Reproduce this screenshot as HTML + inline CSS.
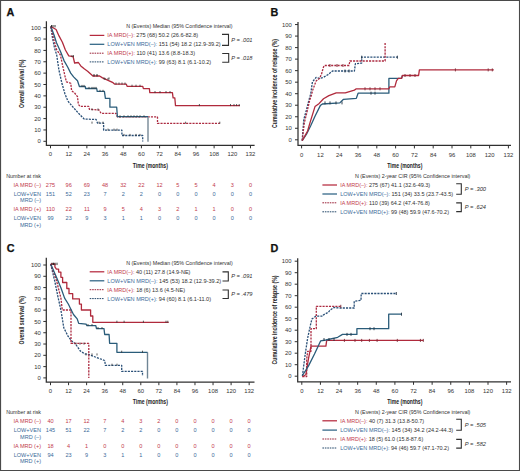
<!DOCTYPE html>
<html><head><meta charset="utf-8"><style>
html,body{margin:0;padding:0;background:#fff;width:520px;height:471px;overflow:hidden}
svg{display:block;font-family:"Liberation Sans",sans-serif}
</style></head><body><svg width="520" height="471" viewBox="0 0 520 471" font-family="Liberation Sans, sans-serif"><path d="M0 0.55 H520 M0.55 0 V471 M519.5 0 V471" stroke="#4a4a4a" stroke-width="1.1" fill="none"/>
<path d="M0 470.45 H520" stroke="#4a4a4a" stroke-width="1.1" fill="none"/>
<text x="6.4" y="15.6" font-size="10.8" font-weight="bold" fill="#111" stroke="#111" stroke-width="0.25">A</text>
<path d="M46.40 21.20 V145.30 H254.60" fill="none" stroke="#303030" stroke-width="1.25"/>
<line x1="43.40" y1="141.30" x2="46.40" y2="141.30" stroke="#303030" stroke-width="1.0"/>
<text x="40.90" y="143.41" font-size="5.9" text-anchor="end" fill="#333">0</text>
<line x1="43.40" y1="129.94" x2="46.40" y2="129.94" stroke="#303030" stroke-width="1.0"/>
<text x="40.90" y="132.05" font-size="5.9" text-anchor="end" fill="#333">10</text>
<line x1="43.40" y1="118.58" x2="46.40" y2="118.58" stroke="#303030" stroke-width="1.0"/>
<text x="40.90" y="120.69" font-size="5.9" text-anchor="end" fill="#333">20</text>
<line x1="43.40" y1="107.22" x2="46.40" y2="107.22" stroke="#303030" stroke-width="1.0"/>
<text x="40.90" y="109.33" font-size="5.9" text-anchor="end" fill="#333">30</text>
<line x1="43.40" y1="95.86" x2="46.40" y2="95.86" stroke="#303030" stroke-width="1.0"/>
<text x="40.90" y="97.97" font-size="5.9" text-anchor="end" fill="#333">40</text>
<line x1="43.40" y1="84.50" x2="46.40" y2="84.50" stroke="#303030" stroke-width="1.0"/>
<text x="40.90" y="86.61" font-size="5.9" text-anchor="end" fill="#333">50</text>
<line x1="43.40" y1="73.14" x2="46.40" y2="73.14" stroke="#303030" stroke-width="1.0"/>
<text x="40.90" y="75.25" font-size="5.9" text-anchor="end" fill="#333">60</text>
<line x1="43.40" y1="61.78" x2="46.40" y2="61.78" stroke="#303030" stroke-width="1.0"/>
<text x="40.90" y="63.89" font-size="5.9" text-anchor="end" fill="#333">70</text>
<line x1="43.40" y1="50.42" x2="46.40" y2="50.42" stroke="#303030" stroke-width="1.0"/>
<text x="40.90" y="52.53" font-size="5.9" text-anchor="end" fill="#333">80</text>
<line x1="43.40" y1="39.06" x2="46.40" y2="39.06" stroke="#303030" stroke-width="1.0"/>
<text x="40.90" y="41.17" font-size="5.9" text-anchor="end" fill="#333">90</text>
<line x1="43.40" y1="27.70" x2="46.40" y2="27.70" stroke="#303030" stroke-width="1.0"/>
<text x="40.90" y="29.81" font-size="5.9" text-anchor="end" fill="#333">100</text>
<line x1="50.50" y1="145.30" x2="50.50" y2="148.30" stroke="#303030" stroke-width="1.0"/>
<text x="50.50" y="156.31" font-size="5.9" text-anchor="middle" fill="#333">0</text>
<line x1="68.68" y1="145.30" x2="68.68" y2="148.30" stroke="#303030" stroke-width="1.0"/>
<text x="68.68" y="156.31" font-size="5.9" text-anchor="middle" fill="#333">12</text>
<line x1="86.86" y1="145.30" x2="86.86" y2="148.30" stroke="#303030" stroke-width="1.0"/>
<text x="86.86" y="156.31" font-size="5.9" text-anchor="middle" fill="#333">24</text>
<line x1="105.04" y1="145.30" x2="105.04" y2="148.30" stroke="#303030" stroke-width="1.0"/>
<text x="105.04" y="156.31" font-size="5.9" text-anchor="middle" fill="#333">36</text>
<line x1="123.22" y1="145.30" x2="123.22" y2="148.30" stroke="#303030" stroke-width="1.0"/>
<text x="123.22" y="156.31" font-size="5.9" text-anchor="middle" fill="#333">48</text>
<line x1="141.40" y1="145.30" x2="141.40" y2="148.30" stroke="#303030" stroke-width="1.0"/>
<text x="141.40" y="156.31" font-size="5.9" text-anchor="middle" fill="#333">60</text>
<line x1="159.58" y1="145.30" x2="159.58" y2="148.30" stroke="#303030" stroke-width="1.0"/>
<text x="159.58" y="156.31" font-size="5.9" text-anchor="middle" fill="#333">72</text>
<line x1="177.76" y1="145.30" x2="177.76" y2="148.30" stroke="#303030" stroke-width="1.0"/>
<text x="177.76" y="156.31" font-size="5.9" text-anchor="middle" fill="#333">84</text>
<line x1="195.94" y1="145.30" x2="195.94" y2="148.30" stroke="#303030" stroke-width="1.0"/>
<text x="195.94" y="156.31" font-size="5.9" text-anchor="middle" fill="#333">96</text>
<line x1="214.12" y1="145.30" x2="214.12" y2="148.30" stroke="#303030" stroke-width="1.0"/>
<text x="214.12" y="156.31" font-size="5.9" text-anchor="middle" fill="#333">108</text>
<line x1="232.30" y1="145.30" x2="232.30" y2="148.30" stroke="#303030" stroke-width="1.0"/>
<text x="232.30" y="156.31" font-size="5.9" text-anchor="middle" fill="#333">120</text>
<line x1="250.48" y1="145.30" x2="250.48" y2="148.30" stroke="#303030" stroke-width="1.0"/>
<text x="250.48" y="156.31" font-size="5.9" text-anchor="middle" fill="#333">132</text>
<text transform="translate(24.26,83.70) rotate(-90)" x="0" y="0" font-size="8" font-weight="bold" text-anchor="middle" textLength="48.4" lengthAdjust="spacingAndGlyphs" fill="#222">Overall survival (%)</text>
<text x="150.30" y="167.56" font-size="8" text-anchor="middle" textLength="35.2" lengthAdjust="spacingAndGlyphs" font-weight="bold" fill="#222">Time (months)</text>
<text x="270.5" y="15.6" font-size="10.8" font-weight="bold" fill="#111" stroke="#111" stroke-width="0.25">B</text>
<path d="M298.00 22.10 V145.40 H511.00" fill="none" stroke="#303030" stroke-width="1.25"/>
<line x1="295.00" y1="139.80" x2="298.00" y2="139.80" stroke="#303030" stroke-width="1.0"/>
<text x="291.80" y="141.91" font-size="5.9" text-anchor="end" fill="#333">0</text>
<line x1="295.00" y1="128.28" x2="298.00" y2="128.28" stroke="#303030" stroke-width="1.0"/>
<text x="291.80" y="130.39" font-size="5.9" text-anchor="end" fill="#333">10</text>
<line x1="295.00" y1="116.75" x2="298.00" y2="116.75" stroke="#303030" stroke-width="1.0"/>
<text x="291.80" y="118.86" font-size="5.9" text-anchor="end" fill="#333">20</text>
<line x1="295.00" y1="105.23" x2="298.00" y2="105.23" stroke="#303030" stroke-width="1.0"/>
<text x="291.80" y="107.34" font-size="5.9" text-anchor="end" fill="#333">30</text>
<line x1="295.00" y1="93.70" x2="298.00" y2="93.70" stroke="#303030" stroke-width="1.0"/>
<text x="291.80" y="95.81" font-size="5.9" text-anchor="end" fill="#333">40</text>
<line x1="295.00" y1="82.18" x2="298.00" y2="82.18" stroke="#303030" stroke-width="1.0"/>
<text x="291.80" y="84.29" font-size="5.9" text-anchor="end" fill="#333">50</text>
<line x1="295.00" y1="70.65" x2="298.00" y2="70.65" stroke="#303030" stroke-width="1.0"/>
<text x="291.80" y="72.76" font-size="5.9" text-anchor="end" fill="#333">60</text>
<line x1="295.00" y1="59.13" x2="298.00" y2="59.13" stroke="#303030" stroke-width="1.0"/>
<text x="291.80" y="61.24" font-size="5.9" text-anchor="end" fill="#333">70</text>
<line x1="295.00" y1="47.60" x2="298.00" y2="47.60" stroke="#303030" stroke-width="1.0"/>
<text x="291.80" y="49.71" font-size="5.9" text-anchor="end" fill="#333">80</text>
<line x1="295.00" y1="36.08" x2="298.00" y2="36.08" stroke="#303030" stroke-width="1.0"/>
<text x="291.80" y="38.19" font-size="5.9" text-anchor="end" fill="#333">90</text>
<line x1="295.00" y1="24.55" x2="298.00" y2="24.55" stroke="#303030" stroke-width="1.0"/>
<text x="291.80" y="26.66" font-size="5.9" text-anchor="end" fill="#333">100</text>
<line x1="301.60" y1="145.40" x2="301.60" y2="148.40" stroke="#303030" stroke-width="1.0"/>
<text x="301.60" y="156.91" font-size="5.9" text-anchor="middle" fill="#333">0</text>
<line x1="320.40" y1="145.40" x2="320.40" y2="148.40" stroke="#303030" stroke-width="1.0"/>
<text x="320.40" y="156.91" font-size="5.9" text-anchor="middle" fill="#333">12</text>
<line x1="339.20" y1="145.40" x2="339.20" y2="148.40" stroke="#303030" stroke-width="1.0"/>
<text x="339.20" y="156.91" font-size="5.9" text-anchor="middle" fill="#333">24</text>
<line x1="358.00" y1="145.40" x2="358.00" y2="148.40" stroke="#303030" stroke-width="1.0"/>
<text x="358.00" y="156.91" font-size="5.9" text-anchor="middle" fill="#333">36</text>
<line x1="376.80" y1="145.40" x2="376.80" y2="148.40" stroke="#303030" stroke-width="1.0"/>
<text x="376.80" y="156.91" font-size="5.9" text-anchor="middle" fill="#333">48</text>
<line x1="395.60" y1="145.40" x2="395.60" y2="148.40" stroke="#303030" stroke-width="1.0"/>
<text x="395.60" y="156.91" font-size="5.9" text-anchor="middle" fill="#333">60</text>
<line x1="414.40" y1="145.40" x2="414.40" y2="148.40" stroke="#303030" stroke-width="1.0"/>
<text x="414.40" y="156.91" font-size="5.9" text-anchor="middle" fill="#333">72</text>
<line x1="433.20" y1="145.40" x2="433.20" y2="148.40" stroke="#303030" stroke-width="1.0"/>
<text x="433.20" y="156.91" font-size="5.9" text-anchor="middle" fill="#333">84</text>
<line x1="452.00" y1="145.40" x2="452.00" y2="148.40" stroke="#303030" stroke-width="1.0"/>
<text x="452.00" y="156.91" font-size="5.9" text-anchor="middle" fill="#333">96</text>
<line x1="470.80" y1="145.40" x2="470.80" y2="148.40" stroke="#303030" stroke-width="1.0"/>
<text x="470.80" y="156.91" font-size="5.9" text-anchor="middle" fill="#333">108</text>
<line x1="489.60" y1="145.40" x2="489.60" y2="148.40" stroke="#303030" stroke-width="1.0"/>
<text x="489.60" y="156.91" font-size="5.9" text-anchor="middle" fill="#333">120</text>
<line x1="508.40" y1="145.40" x2="508.40" y2="148.40" stroke="#303030" stroke-width="1.0"/>
<text x="508.40" y="156.91" font-size="5.9" text-anchor="middle" fill="#333">132</text>
<text transform="translate(277.06,83.50) rotate(-90)" x="0" y="0" font-size="8" font-weight="bold" text-anchor="middle" textLength="89" lengthAdjust="spacingAndGlyphs" fill="#222">Cumulative incidence of relapse (%)</text>
<text x="404.80" y="167.56" font-size="8" text-anchor="middle" textLength="35.2" lengthAdjust="spacingAndGlyphs" font-weight="bold" fill="#222">Time (months)</text>
<text x="6.8" y="252.2" font-size="10.8" font-weight="bold" fill="#111" stroke="#111" stroke-width="0.25">C</text>
<path d="M46.30 257.80 V382.20 H254.50" fill="none" stroke="#303030" stroke-width="1.25"/>
<line x1="43.30" y1="377.90" x2="46.30" y2="377.90" stroke="#303030" stroke-width="1.0"/>
<text x="40.90" y="380.01" font-size="5.9" text-anchor="end" fill="#333">0</text>
<line x1="43.30" y1="366.61" x2="46.30" y2="366.61" stroke="#303030" stroke-width="1.0"/>
<text x="40.90" y="368.72" font-size="5.9" text-anchor="end" fill="#333">10</text>
<line x1="43.30" y1="355.32" x2="46.30" y2="355.32" stroke="#303030" stroke-width="1.0"/>
<text x="40.90" y="357.43" font-size="5.9" text-anchor="end" fill="#333">20</text>
<line x1="43.30" y1="344.03" x2="46.30" y2="344.03" stroke="#303030" stroke-width="1.0"/>
<text x="40.90" y="346.14" font-size="5.9" text-anchor="end" fill="#333">30</text>
<line x1="43.30" y1="332.74" x2="46.30" y2="332.74" stroke="#303030" stroke-width="1.0"/>
<text x="40.90" y="334.85" font-size="5.9" text-anchor="end" fill="#333">40</text>
<line x1="43.30" y1="321.45" x2="46.30" y2="321.45" stroke="#303030" stroke-width="1.0"/>
<text x="40.90" y="323.56" font-size="5.9" text-anchor="end" fill="#333">50</text>
<line x1="43.30" y1="310.16" x2="46.30" y2="310.16" stroke="#303030" stroke-width="1.0"/>
<text x="40.90" y="312.27" font-size="5.9" text-anchor="end" fill="#333">60</text>
<line x1="43.30" y1="298.87" x2="46.30" y2="298.87" stroke="#303030" stroke-width="1.0"/>
<text x="40.90" y="300.98" font-size="5.9" text-anchor="end" fill="#333">70</text>
<line x1="43.30" y1="287.58" x2="46.30" y2="287.58" stroke="#303030" stroke-width="1.0"/>
<text x="40.90" y="289.69" font-size="5.9" text-anchor="end" fill="#333">80</text>
<line x1="43.30" y1="276.29" x2="46.30" y2="276.29" stroke="#303030" stroke-width="1.0"/>
<text x="40.90" y="278.40" font-size="5.9" text-anchor="end" fill="#333">90</text>
<line x1="43.30" y1="265.00" x2="46.30" y2="265.00" stroke="#303030" stroke-width="1.0"/>
<text x="40.90" y="267.11" font-size="5.9" text-anchor="end" fill="#333">100</text>
<line x1="50.50" y1="382.20" x2="50.50" y2="385.20" stroke="#303030" stroke-width="1.0"/>
<text x="50.50" y="392.51" font-size="5.9" text-anchor="middle" fill="#333">0</text>
<line x1="68.56" y1="382.20" x2="68.56" y2="385.20" stroke="#303030" stroke-width="1.0"/>
<text x="68.56" y="392.51" font-size="5.9" text-anchor="middle" fill="#333">12</text>
<line x1="86.62" y1="382.20" x2="86.62" y2="385.20" stroke="#303030" stroke-width="1.0"/>
<text x="86.62" y="392.51" font-size="5.9" text-anchor="middle" fill="#333">24</text>
<line x1="104.68" y1="382.20" x2="104.68" y2="385.20" stroke="#303030" stroke-width="1.0"/>
<text x="104.68" y="392.51" font-size="5.9" text-anchor="middle" fill="#333">36</text>
<line x1="122.74" y1="382.20" x2="122.74" y2="385.20" stroke="#303030" stroke-width="1.0"/>
<text x="122.74" y="392.51" font-size="5.9" text-anchor="middle" fill="#333">48</text>
<line x1="140.80" y1="382.20" x2="140.80" y2="385.20" stroke="#303030" stroke-width="1.0"/>
<text x="140.80" y="392.51" font-size="5.9" text-anchor="middle" fill="#333">60</text>
<line x1="158.86" y1="382.20" x2="158.86" y2="385.20" stroke="#303030" stroke-width="1.0"/>
<text x="158.86" y="392.51" font-size="5.9" text-anchor="middle" fill="#333">72</text>
<line x1="176.92" y1="382.20" x2="176.92" y2="385.20" stroke="#303030" stroke-width="1.0"/>
<text x="176.92" y="392.51" font-size="5.9" text-anchor="middle" fill="#333">84</text>
<line x1="194.98" y1="382.20" x2="194.98" y2="385.20" stroke="#303030" stroke-width="1.0"/>
<text x="194.98" y="392.51" font-size="5.9" text-anchor="middle" fill="#333">96</text>
<line x1="213.04" y1="382.20" x2="213.04" y2="385.20" stroke="#303030" stroke-width="1.0"/>
<text x="213.04" y="392.51" font-size="5.9" text-anchor="middle" fill="#333">108</text>
<line x1="231.10" y1="382.20" x2="231.10" y2="385.20" stroke="#303030" stroke-width="1.0"/>
<text x="231.10" y="392.51" font-size="5.9" text-anchor="middle" fill="#333">120</text>
<line x1="249.16" y1="382.20" x2="249.16" y2="385.20" stroke="#303030" stroke-width="1.0"/>
<text x="249.16" y="392.51" font-size="5.9" text-anchor="middle" fill="#333">132</text>
<text transform="translate(24.26,320.20) rotate(-90)" x="0" y="0" font-size="8" font-weight="bold" text-anchor="middle" textLength="48.4" lengthAdjust="spacingAndGlyphs" fill="#222">Overall survival (%)</text>
<text x="150.30" y="404.06" font-size="8" text-anchor="middle" textLength="35.2" lengthAdjust="spacingAndGlyphs" font-weight="bold" fill="#222">Time (months)</text>
<text x="270.5" y="252.2" font-size="10.8" font-weight="bold" fill="#111" stroke="#111" stroke-width="0.25">D</text>
<path d="M297.70 258.30 V381.80 H511.00" fill="none" stroke="#303030" stroke-width="1.25"/>
<line x1="294.70" y1="376.20" x2="297.70" y2="376.20" stroke="#303030" stroke-width="1.0"/>
<text x="291.50" y="378.31" font-size="5.9" text-anchor="end" fill="#333">0</text>
<line x1="294.70" y1="364.70" x2="297.70" y2="364.70" stroke="#303030" stroke-width="1.0"/>
<text x="291.50" y="366.81" font-size="5.9" text-anchor="end" fill="#333">10</text>
<line x1="294.70" y1="353.20" x2="297.70" y2="353.20" stroke="#303030" stroke-width="1.0"/>
<text x="291.50" y="355.31" font-size="5.9" text-anchor="end" fill="#333">20</text>
<line x1="294.70" y1="341.70" x2="297.70" y2="341.70" stroke="#303030" stroke-width="1.0"/>
<text x="291.50" y="343.81" font-size="5.9" text-anchor="end" fill="#333">30</text>
<line x1="294.70" y1="330.20" x2="297.70" y2="330.20" stroke="#303030" stroke-width="1.0"/>
<text x="291.50" y="332.31" font-size="5.9" text-anchor="end" fill="#333">40</text>
<line x1="294.70" y1="318.70" x2="297.70" y2="318.70" stroke="#303030" stroke-width="1.0"/>
<text x="291.50" y="320.81" font-size="5.9" text-anchor="end" fill="#333">50</text>
<line x1="294.70" y1="307.20" x2="297.70" y2="307.20" stroke="#303030" stroke-width="1.0"/>
<text x="291.50" y="309.31" font-size="5.9" text-anchor="end" fill="#333">60</text>
<line x1="294.70" y1="295.70" x2="297.70" y2="295.70" stroke="#303030" stroke-width="1.0"/>
<text x="291.50" y="297.81" font-size="5.9" text-anchor="end" fill="#333">70</text>
<line x1="294.70" y1="284.20" x2="297.70" y2="284.20" stroke="#303030" stroke-width="1.0"/>
<text x="291.50" y="286.31" font-size="5.9" text-anchor="end" fill="#333">80</text>
<line x1="294.70" y1="272.70" x2="297.70" y2="272.70" stroke="#303030" stroke-width="1.0"/>
<text x="291.50" y="274.81" font-size="5.9" text-anchor="end" fill="#333">90</text>
<line x1="294.70" y1="261.20" x2="297.70" y2="261.20" stroke="#303030" stroke-width="1.0"/>
<text x="291.50" y="263.31" font-size="5.9" text-anchor="end" fill="#333">100</text>
<line x1="301.80" y1="381.80" x2="301.80" y2="384.80" stroke="#303030" stroke-width="1.0"/>
<text x="301.80" y="393.11" font-size="5.9" text-anchor="middle" fill="#333">0</text>
<line x1="320.42" y1="381.80" x2="320.42" y2="384.80" stroke="#303030" stroke-width="1.0"/>
<text x="320.42" y="393.11" font-size="5.9" text-anchor="middle" fill="#333">12</text>
<line x1="339.04" y1="381.80" x2="339.04" y2="384.80" stroke="#303030" stroke-width="1.0"/>
<text x="339.04" y="393.11" font-size="5.9" text-anchor="middle" fill="#333">24</text>
<line x1="357.66" y1="381.80" x2="357.66" y2="384.80" stroke="#303030" stroke-width="1.0"/>
<text x="357.66" y="393.11" font-size="5.9" text-anchor="middle" fill="#333">36</text>
<line x1="376.28" y1="381.80" x2="376.28" y2="384.80" stroke="#303030" stroke-width="1.0"/>
<text x="376.28" y="393.11" font-size="5.9" text-anchor="middle" fill="#333">48</text>
<line x1="394.90" y1="381.80" x2="394.90" y2="384.80" stroke="#303030" stroke-width="1.0"/>
<text x="394.90" y="393.11" font-size="5.9" text-anchor="middle" fill="#333">60</text>
<line x1="413.52" y1="381.80" x2="413.52" y2="384.80" stroke="#303030" stroke-width="1.0"/>
<text x="413.52" y="393.11" font-size="5.9" text-anchor="middle" fill="#333">72</text>
<line x1="432.14" y1="381.80" x2="432.14" y2="384.80" stroke="#303030" stroke-width="1.0"/>
<text x="432.14" y="393.11" font-size="5.9" text-anchor="middle" fill="#333">84</text>
<line x1="450.76" y1="381.80" x2="450.76" y2="384.80" stroke="#303030" stroke-width="1.0"/>
<text x="450.76" y="393.11" font-size="5.9" text-anchor="middle" fill="#333">96</text>
<line x1="469.38" y1="381.80" x2="469.38" y2="384.80" stroke="#303030" stroke-width="1.0"/>
<text x="469.38" y="393.11" font-size="5.9" text-anchor="middle" fill="#333">108</text>
<line x1="488.00" y1="381.80" x2="488.00" y2="384.80" stroke="#303030" stroke-width="1.0"/>
<text x="488.00" y="393.11" font-size="5.9" text-anchor="middle" fill="#333">120</text>
<line x1="506.62" y1="381.80" x2="506.62" y2="384.80" stroke="#303030" stroke-width="1.0"/>
<text x="506.62" y="393.11" font-size="5.9" text-anchor="middle" fill="#333">132</text>
<text transform="translate(277.06,320.00) rotate(-90)" x="0" y="0" font-size="8" font-weight="bold" text-anchor="middle" textLength="89" lengthAdjust="spacingAndGlyphs" fill="#222">Cumulative incidence of relapse (%)</text>
<text x="404.80" y="403.86" font-size="8" text-anchor="middle" textLength="35.2" lengthAdjust="spacingAndGlyphs" font-weight="bold" fill="#222">Time (months)</text>
<text x="126.20" y="28.23" font-size="5.4" textLength="106.3" lengthAdjust="spacingAndGlyphs" fill="#303030">N (Events) Median (95% Confidence interval)</text>
<line x1="89.70" y1="35.40" x2="104.30" y2="35.40" stroke="#b52a3e" stroke-width="1.25"/>
<text x="107.30" y="37.39" font-size="5.55" fill="#303030" textLength="90.8" lengthAdjust="spacingAndGlyphs"><tspan fill="#c23a4c">IA MRD(–):</tspan> 275 (68) 50.2 (26.6-82.8)</text>
<line x1="89.70" y1="44.30" x2="104.30" y2="44.30" stroke="#2d6384" stroke-width="1.25"/>
<text x="107.30" y="46.29" font-size="5.55" fill="#303030" textLength="113.3" lengthAdjust="spacingAndGlyphs"><tspan fill="#3b6a99">LOW+VEN MRD(–):</tspan> 151 (54) 18.2 (12.9-39.2)</text>
<line x1="89.70" y1="53.20" x2="104.30" y2="53.20" stroke="#9a2238" stroke-width="1.0" stroke-dasharray="1.6 0.85"/>
<text x="107.30" y="55.19" font-size="5.55" fill="#303030" textLength="87.7" lengthAdjust="spacingAndGlyphs"><tspan fill="#c23a4c">IA MRD(+):</tspan> 110 (41) 13.6 (8.8-18.3)</text>
<line x1="89.70" y1="61.90" x2="104.30" y2="61.90" stroke="#24486a" stroke-width="1.0" stroke-dasharray="1.6 0.85"/>
<text x="107.30" y="63.89" font-size="5.55" fill="#303030" textLength="103.9" lengthAdjust="spacingAndGlyphs"><tspan fill="#3b6a99">LOW+VEN MRD(+):</tspan> 99 (63) 8.1 (6.1-10.2)</text>
<path d="M222.00 34.40 H228.50 V45.40 H222.00" fill="none" stroke="#303030" stroke-width="1.1"/>
<text x="231.30" y="41.84" font-size="5.7" textLength="21.2" lengthAdjust="spacingAndGlyphs" font-style="italic" fill="#303030">P = .001</text>
<path d="M222.20 53.50 H228.70 V62.30 H222.20" fill="none" stroke="#303030" stroke-width="1.1"/>
<text x="231.30" y="59.74" font-size="5.7" textLength="21.2" lengthAdjust="spacingAndGlyphs" font-style="italic" fill="#303030">P = .018</text>
<text x="126.20" y="264.73" font-size="5.4" textLength="106.5" lengthAdjust="spacingAndGlyphs" fill="#303030">N (Events) Median (95% Confidence interval)</text>
<line x1="89.70" y1="271.80" x2="104.30" y2="271.80" stroke="#b52a3e" stroke-width="1.25"/>
<text x="107.30" y="273.79" font-size="5.55" fill="#303030" textLength="83.1" lengthAdjust="spacingAndGlyphs"><tspan fill="#c23a4c">IA MRD(–):</tspan> 40 (11) 27.8 (14.9-NE)</text>
<line x1="89.70" y1="280.80" x2="104.30" y2="280.80" stroke="#2d6384" stroke-width="1.25"/>
<text x="107.30" y="282.79" font-size="5.55" fill="#303030" textLength="113.9" lengthAdjust="spacingAndGlyphs"><tspan fill="#3b6a99">LOW+VEN MRD(–):</tspan> 145 (53) 18.2 (12.9-39.2)</text>
<line x1="89.70" y1="289.70" x2="104.30" y2="289.70" stroke="#9a2238" stroke-width="1.0" stroke-dasharray="1.6 0.85"/>
<text x="107.30" y="291.69" font-size="5.55" fill="#303030" textLength="77.7" lengthAdjust="spacingAndGlyphs"><tspan fill="#c23a4c">IA MRD(+):</tspan> 18 (6) 13.6 (4.5-NE)</text>
<line x1="89.70" y1="298.60" x2="104.30" y2="298.60" stroke="#24486a" stroke-width="1.0" stroke-dasharray="1.6 0.85"/>
<text x="107.30" y="300.59" font-size="5.55" fill="#303030" textLength="103.7" lengthAdjust="spacingAndGlyphs"><tspan fill="#3b6a99">LOW+VEN MRD(+):</tspan> 94 (60) 8.1 (6.1-11.0)</text>
<path d="M222.50 271.90 H228.30 V281.00 H222.50" fill="none" stroke="#303030" stroke-width="1.1"/>
<text x="231.30" y="278.04" font-size="5.7" textLength="21.2" lengthAdjust="spacingAndGlyphs" font-style="italic" fill="#303030">P = .091</text>
<path d="M222.50 290.00 H228.30 V298.50 H222.50" fill="none" stroke="#303030" stroke-width="1.1"/>
<text x="231.30" y="296.44" font-size="5.7" textLength="21.2" lengthAdjust="spacingAndGlyphs" font-style="italic" fill="#303030">P = .479</text>
<text x="355.00" y="177.63" font-size="5.4" textLength="115.4" lengthAdjust="spacingAndGlyphs" fill="#303030">N (Events) 2-year CIR (95% Confidence interval)</text>
<line x1="322.40" y1="185.00" x2="337.00" y2="185.00" stroke="#b52a3e" stroke-width="1.25"/>
<text x="340.20" y="186.99" font-size="5.55" fill="#303030" textLength="90.0" lengthAdjust="spacingAndGlyphs"><tspan fill="#c23a4c">IA MRD(–):</tspan> 275 (67) 41.1 (32.6-49.3)</text>
<line x1="322.40" y1="194.00" x2="337.00" y2="194.00" stroke="#2d6384" stroke-width="1.25"/>
<text x="340.20" y="195.99" font-size="5.55" fill="#303030" textLength="113.0" lengthAdjust="spacingAndGlyphs"><tspan fill="#3b6a99">LOW+VEN MRD(–):</tspan> 151 (34) 33.5 (23.7-43.5)</text>
<line x1="322.40" y1="202.80" x2="337.00" y2="202.80" stroke="#9a2238" stroke-width="1.0" stroke-dasharray="1.6 0.85"/>
<text x="340.20" y="204.79" font-size="5.55" fill="#303030" textLength="89.6" lengthAdjust="spacingAndGlyphs"><tspan fill="#c23a4c">IA MRD(+):</tspan> 110 (39) 64.2 (47.4-76.8)</text>
<line x1="322.40" y1="211.80" x2="337.00" y2="211.80" stroke="#24486a" stroke-width="1.0" stroke-dasharray="1.6 0.85"/>
<text x="340.20" y="213.79" font-size="5.55" fill="#303030" textLength="108.8" lengthAdjust="spacingAndGlyphs"><tspan fill="#3b6a99">LOW+VEN MRD(+):</tspan> 99 (48) 59.9 (47.6-70.2)</text>
<path d="M456.20 183.70 H461.30 V194.20 H456.20" fill="none" stroke="#303030" stroke-width="1.1"/>
<text x="464.80" y="190.84" font-size="5.7" textLength="21.2" lengthAdjust="spacingAndGlyphs" font-style="italic" fill="#303030">P = .300</text>
<path d="M456.20 202.90 H461.30 V211.60 H456.20" fill="none" stroke="#303030" stroke-width="1.1"/>
<text x="464.80" y="209.04" font-size="5.7" textLength="21.2" lengthAdjust="spacingAndGlyphs" font-style="italic" fill="#303030">P = .624</text>
<text x="355.00" y="414.23" font-size="5.4" textLength="115.4" lengthAdjust="spacingAndGlyphs" fill="#303030">N (Events) 2-year CIR (95% Confidence interval)</text>
<line x1="322.40" y1="420.80" x2="337.00" y2="420.80" stroke="#b52a3e" stroke-width="1.25"/>
<text x="340.20" y="422.79" font-size="5.55" fill="#303030" textLength="84.0" lengthAdjust="spacingAndGlyphs"><tspan fill="#c23a4c">IA MRD(–):</tspan> 40 (7) 31.3 (13.8-50.7)</text>
<line x1="322.40" y1="430.10" x2="337.00" y2="430.10" stroke="#2d6384" stroke-width="1.25"/>
<text x="340.20" y="432.09" font-size="5.55" fill="#303030" textLength="113.0" lengthAdjust="spacingAndGlyphs"><tspan fill="#3b6a99">LOW+VEN MRD(–):</tspan> 145 (34) 34.2 (24.2-44.3)</text>
<line x1="322.40" y1="439.00" x2="337.00" y2="439.00" stroke="#9a2238" stroke-width="1.0" stroke-dasharray="1.6 0.85"/>
<text x="340.20" y="440.99" font-size="5.55" fill="#303030" textLength="83.0" lengthAdjust="spacingAndGlyphs"><tspan fill="#c23a4c">IA MRD(+):</tspan> 18 (5) 61.0 (15.8-87.6)</text>
<line x1="322.40" y1="448.00" x2="337.00" y2="448.00" stroke="#24486a" stroke-width="1.0" stroke-dasharray="1.6 0.85"/>
<text x="340.20" y="449.99" font-size="5.55" fill="#303030" textLength="108.8" lengthAdjust="spacingAndGlyphs"><tspan fill="#3b6a99">LOW+VEN MRD(+):</tspan> 94 (46) 59.7 (47.1-70.2)</text>
<path d="M456.20 419.30 H461.30 V430.30 H456.20" fill="none" stroke="#303030" stroke-width="1.1"/>
<text x="464.80" y="426.74" font-size="5.7" textLength="21.2" lengthAdjust="spacingAndGlyphs" font-style="italic" fill="#303030">P = .505</text>
<path d="M456.20 439.40 H461.30 V448.10 H456.20" fill="none" stroke="#303030" stroke-width="1.1"/>
<text x="464.80" y="445.84" font-size="5.7" textLength="21.2" lengthAdjust="spacingAndGlyphs" font-style="italic" fill="#303030">P = .582</text>
<text x="6.20" y="178.15" font-size="5.45" textLength="34.8" lengthAdjust="spacingAndGlyphs" fill="#303030">Number at risk</text>
<text x="41.00" y="186.79" font-size="5.55" text-anchor="end" fill="#c23a4c">IA MRD (–)</text>
<text x="41.00" y="195.79" font-size="5.55" text-anchor="end" fill="#3b6a99">LOW+VEN</text>
<text x="41.00" y="202.39" font-size="5.55" text-anchor="end" fill="#3b6a99">MRD (–)</text>
<text x="41.00" y="211.49" font-size="5.55" text-anchor="end" fill="#c23a4c">IA MRD (+)</text>
<text x="41.00" y="220.49" font-size="5.55" text-anchor="end" fill="#3b6a99">LOW+VEN</text>
<text x="41.00" y="226.89" font-size="5.55" text-anchor="end" fill="#3b6a99">MRD (+)</text>
<text x="50.50" y="186.79" font-size="5.55" text-anchor="middle" fill="#c23a4c">275</text>
<text x="68.68" y="186.79" font-size="5.55" text-anchor="middle" fill="#c23a4c">96</text>
<text x="86.86" y="186.79" font-size="5.55" text-anchor="middle" fill="#c23a4c">69</text>
<text x="105.04" y="186.79" font-size="5.55" text-anchor="middle" fill="#c23a4c">48</text>
<text x="123.22" y="186.79" font-size="5.55" text-anchor="middle" fill="#c23a4c">32</text>
<text x="141.40" y="186.79" font-size="5.55" text-anchor="middle" fill="#c23a4c">22</text>
<text x="159.58" y="186.79" font-size="5.55" text-anchor="middle" fill="#c23a4c">12</text>
<text x="177.76" y="186.79" font-size="5.55" text-anchor="middle" fill="#c23a4c">5</text>
<text x="195.94" y="186.79" font-size="5.55" text-anchor="middle" fill="#c23a4c">5</text>
<text x="214.12" y="186.79" font-size="5.55" text-anchor="middle" fill="#c23a4c">4</text>
<text x="232.30" y="186.79" font-size="5.55" text-anchor="middle" fill="#c23a4c">3</text>
<text x="250.48" y="186.79" font-size="5.55" text-anchor="middle" fill="#c23a4c">0</text>
<text x="50.50" y="195.79" font-size="5.55" text-anchor="middle" fill="#3b6a99">151</text>
<text x="68.68" y="195.79" font-size="5.55" text-anchor="middle" fill="#3b6a99">52</text>
<text x="86.86" y="195.79" font-size="5.55" text-anchor="middle" fill="#3b6a99">23</text>
<text x="105.04" y="195.79" font-size="5.55" text-anchor="middle" fill="#3b6a99">7</text>
<text x="123.22" y="195.79" font-size="5.55" text-anchor="middle" fill="#3b6a99">2</text>
<text x="141.40" y="195.79" font-size="5.55" text-anchor="middle" fill="#3b6a99">2</text>
<text x="159.58" y="195.79" font-size="5.55" text-anchor="middle" fill="#3b6a99">0</text>
<text x="177.76" y="195.79" font-size="5.55" text-anchor="middle" fill="#3b6a99">0</text>
<text x="195.94" y="195.79" font-size="5.55" text-anchor="middle" fill="#3b6a99">0</text>
<text x="214.12" y="195.79" font-size="5.55" text-anchor="middle" fill="#3b6a99">0</text>
<text x="232.30" y="195.79" font-size="5.55" text-anchor="middle" fill="#3b6a99">0</text>
<text x="250.48" y="195.79" font-size="5.55" text-anchor="middle" fill="#3b6a99">0</text>
<text x="50.50" y="211.49" font-size="5.55" text-anchor="middle" fill="#c23a4c">110</text>
<text x="68.68" y="211.49" font-size="5.55" text-anchor="middle" fill="#c23a4c">22</text>
<text x="86.86" y="211.49" font-size="5.55" text-anchor="middle" fill="#c23a4c">11</text>
<text x="105.04" y="211.49" font-size="5.55" text-anchor="middle" fill="#c23a4c">9</text>
<text x="123.22" y="211.49" font-size="5.55" text-anchor="middle" fill="#c23a4c">5</text>
<text x="141.40" y="211.49" font-size="5.55" text-anchor="middle" fill="#c23a4c">4</text>
<text x="159.58" y="211.49" font-size="5.55" text-anchor="middle" fill="#c23a4c">3</text>
<text x="177.76" y="211.49" font-size="5.55" text-anchor="middle" fill="#c23a4c">2</text>
<text x="195.94" y="211.49" font-size="5.55" text-anchor="middle" fill="#c23a4c">1</text>
<text x="214.12" y="211.49" font-size="5.55" text-anchor="middle" fill="#c23a4c">1</text>
<text x="232.30" y="211.49" font-size="5.55" text-anchor="middle" fill="#c23a4c">0</text>
<text x="250.48" y="211.49" font-size="5.55" text-anchor="middle" fill="#c23a4c">0</text>
<text x="50.50" y="220.49" font-size="5.55" text-anchor="middle" fill="#3b6a99">99</text>
<text x="68.68" y="220.49" font-size="5.55" text-anchor="middle" fill="#3b6a99">23</text>
<text x="86.86" y="220.49" font-size="5.55" text-anchor="middle" fill="#3b6a99">9</text>
<text x="105.04" y="220.49" font-size="5.55" text-anchor="middle" fill="#3b6a99">3</text>
<text x="123.22" y="220.49" font-size="5.55" text-anchor="middle" fill="#3b6a99">1</text>
<text x="141.40" y="220.49" font-size="5.55" text-anchor="middle" fill="#3b6a99">1</text>
<text x="159.58" y="220.49" font-size="5.55" text-anchor="middle" fill="#3b6a99">0</text>
<text x="177.76" y="220.49" font-size="5.55" text-anchor="middle" fill="#3b6a99">0</text>
<text x="195.94" y="220.49" font-size="5.55" text-anchor="middle" fill="#3b6a99">0</text>
<text x="214.12" y="220.49" font-size="5.55" text-anchor="middle" fill="#3b6a99">0</text>
<text x="232.30" y="220.49" font-size="5.55" text-anchor="middle" fill="#3b6a99">0</text>
<text x="250.48" y="220.49" font-size="5.55" text-anchor="middle" fill="#3b6a99">0</text>
<text x="6.20" y="414.45" font-size="5.45" textLength="34.8" lengthAdjust="spacingAndGlyphs" fill="#303030">Number at risk</text>
<text x="41.00" y="423.29" font-size="5.55" text-anchor="end" fill="#c23a4c">IA MRD (–)</text>
<text x="41.00" y="432.19" font-size="5.55" text-anchor="end" fill="#3b6a99">LOW+VEN</text>
<text x="41.00" y="438.79" font-size="5.55" text-anchor="end" fill="#3b6a99">MRD (–)</text>
<text x="41.00" y="447.79" font-size="5.55" text-anchor="end" fill="#c23a4c">IA MRD (+)</text>
<text x="41.00" y="456.79" font-size="5.55" text-anchor="end" fill="#3b6a99">LOW+VEN</text>
<text x="41.00" y="463.29" font-size="5.55" text-anchor="end" fill="#3b6a99">MRD (+)</text>
<text x="50.50" y="423.29" font-size="5.55" text-anchor="middle" fill="#c23a4c">40</text>
<text x="68.56" y="423.29" font-size="5.55" text-anchor="middle" fill="#c23a4c">17</text>
<text x="86.62" y="423.29" font-size="5.55" text-anchor="middle" fill="#c23a4c">12</text>
<text x="104.68" y="423.29" font-size="5.55" text-anchor="middle" fill="#c23a4c">7</text>
<text x="122.74" y="423.29" font-size="5.55" text-anchor="middle" fill="#c23a4c">4</text>
<text x="140.80" y="423.29" font-size="5.55" text-anchor="middle" fill="#c23a4c">3</text>
<text x="158.86" y="423.29" font-size="5.55" text-anchor="middle" fill="#c23a4c">2</text>
<text x="176.92" y="423.29" font-size="5.55" text-anchor="middle" fill="#c23a4c">0</text>
<text x="194.98" y="423.29" font-size="5.55" text-anchor="middle" fill="#c23a4c">0</text>
<text x="213.04" y="423.29" font-size="5.55" text-anchor="middle" fill="#c23a4c">0</text>
<text x="231.10" y="423.29" font-size="5.55" text-anchor="middle" fill="#c23a4c">0</text>
<text x="249.16" y="423.29" font-size="5.55" text-anchor="middle" fill="#c23a4c">0</text>
<text x="50.50" y="432.19" font-size="5.55" text-anchor="middle" fill="#3b6a99">145</text>
<text x="68.56" y="432.19" font-size="5.55" text-anchor="middle" fill="#3b6a99">51</text>
<text x="86.62" y="432.19" font-size="5.55" text-anchor="middle" fill="#3b6a99">22</text>
<text x="104.68" y="432.19" font-size="5.55" text-anchor="middle" fill="#3b6a99">7</text>
<text x="122.74" y="432.19" font-size="5.55" text-anchor="middle" fill="#3b6a99">2</text>
<text x="140.80" y="432.19" font-size="5.55" text-anchor="middle" fill="#3b6a99">2</text>
<text x="158.86" y="432.19" font-size="5.55" text-anchor="middle" fill="#3b6a99">0</text>
<text x="176.92" y="432.19" font-size="5.55" text-anchor="middle" fill="#3b6a99">0</text>
<text x="194.98" y="432.19" font-size="5.55" text-anchor="middle" fill="#3b6a99">0</text>
<text x="213.04" y="432.19" font-size="5.55" text-anchor="middle" fill="#3b6a99">0</text>
<text x="231.10" y="432.19" font-size="5.55" text-anchor="middle" fill="#3b6a99">0</text>
<text x="249.16" y="432.19" font-size="5.55" text-anchor="middle" fill="#3b6a99">0</text>
<text x="50.50" y="447.79" font-size="5.55" text-anchor="middle" fill="#c23a4c">18</text>
<text x="68.56" y="447.79" font-size="5.55" text-anchor="middle" fill="#c23a4c">4</text>
<text x="86.62" y="447.79" font-size="5.55" text-anchor="middle" fill="#c23a4c">1</text>
<text x="104.68" y="447.79" font-size="5.55" text-anchor="middle" fill="#c23a4c">0</text>
<text x="122.74" y="447.79" font-size="5.55" text-anchor="middle" fill="#c23a4c">0</text>
<text x="140.80" y="447.79" font-size="5.55" text-anchor="middle" fill="#c23a4c">0</text>
<text x="158.86" y="447.79" font-size="5.55" text-anchor="middle" fill="#c23a4c">0</text>
<text x="176.92" y="447.79" font-size="5.55" text-anchor="middle" fill="#c23a4c">0</text>
<text x="194.98" y="447.79" font-size="5.55" text-anchor="middle" fill="#c23a4c">0</text>
<text x="213.04" y="447.79" font-size="5.55" text-anchor="middle" fill="#c23a4c">0</text>
<text x="231.10" y="447.79" font-size="5.55" text-anchor="middle" fill="#c23a4c">0</text>
<text x="249.16" y="447.79" font-size="5.55" text-anchor="middle" fill="#c23a4c">0</text>
<text x="50.50" y="456.79" font-size="5.55" text-anchor="middle" fill="#3b6a99">94</text>
<text x="68.56" y="456.79" font-size="5.55" text-anchor="middle" fill="#3b6a99">23</text>
<text x="86.62" y="456.79" font-size="5.55" text-anchor="middle" fill="#3b6a99">9</text>
<text x="104.68" y="456.79" font-size="5.55" text-anchor="middle" fill="#3b6a99">3</text>
<text x="122.74" y="456.79" font-size="5.55" text-anchor="middle" fill="#3b6a99">1</text>
<text x="140.80" y="456.79" font-size="5.55" text-anchor="middle" fill="#3b6a99">1</text>
<text x="158.86" y="456.79" font-size="5.55" text-anchor="middle" fill="#3b6a99">0</text>
<text x="176.92" y="456.79" font-size="5.55" text-anchor="middle" fill="#3b6a99">0</text>
<text x="194.98" y="456.79" font-size="5.55" text-anchor="middle" fill="#3b6a99">0</text>
<text x="213.04" y="456.79" font-size="5.55" text-anchor="middle" fill="#3b6a99">0</text>
<text x="231.10" y="456.79" font-size="5.55" text-anchor="middle" fill="#3b6a99">0</text>
<text x="249.16" y="456.79" font-size="5.55" text-anchor="middle" fill="#3b6a99">0</text>
<path d="M50.8 26.5 L52.5 38.0 L54.5 48.0 L56.7 55.0 L58.9 69.9 L61.9 83.3 L64.9 93.7 L67.9 101.1 L72.3 106.3 L78.3 113.0 L81.2 116.0 L84.2 119.0 L96.1 119.5 L97.6 123.2 L103.6 123.2 L103.6 130.2 L121.9 130.2 L121.9 135.5 L142.7 135.5 L142.7 141.5" fill="none" stroke="#2a5078" stroke-width="1.3" stroke-dasharray="2.1 1.1" stroke-linejoin="round"/>
<path d="M50.8 26.5 L53.5 38.4 L56.5 49.5 L60.4 55.0 L62.5 65.0 L64.9 75.8 L66.4 81.8 L70.8 83.3 L71.6 90.7 L74.6 93.0 L77.5 96.7 L78.3 104.1 L79.8 106.3 L88.7 106.3 L89.4 109.3 L99.1 110.0 L101.0 113.3 L115.9 113.3 L117.4 116.9 L157.5 116.9 L157.5 123.3 L219.8 123.3" fill="none" stroke="#ac2a40" stroke-width="1.3" stroke-dasharray="2.1 1.1" stroke-linejoin="round"/>
<line x1="148.00" y1="116.70" x2="148.00" y2="141.70" stroke="#8797a3" stroke-width="1.6"/>
<path d="M50.8 26.5 L51.8 29.1 L54.0 35.0 L56.5 42.7 L60.7 52.0 L64.0 60.6 L67.8 67.3 L70.7 73.1 L73.6 76.9 L77.5 80.8 L79.4 86.5 L85.2 86.5 L85.6 88.5 L96.7 88.5 L97.2 91.4 L104.4 91.4 L105.4 98.3 L109.9 98.3 L109.9 107.2 L116.7 107.2 L117.4 116.7 L148.0 116.7" fill="none" stroke="#2a5c7a" stroke-width="1.3" stroke-linejoin="round"/>
<path d="M50.8 26.5 L56.1 29.5 L59.0 35.9 L62.4 42.3 L65.4 50.0 L68.8 55.8 L73.1 56.7 L74.6 63.0 L78.4 62.5 L80.8 65.9 L84.2 68.8 L87.6 71.2 L92.9 76.0 L99.6 76.0 L102.5 77.9 L109.2 80.8 L113.0 82.7 L114.5 84.1 L126.3 84.1 L127.1 86.3 L142.7 86.3 L143.4 88.6 L149.4 88.6 L149.8 92.6 L172.4 92.6 L173.1 97.8 L174.8 97.8 L175.5 105.6 L240.0 105.6" fill="none" stroke="#b02a3c" stroke-width="1.3" stroke-linejoin="round"/>
<line x1="116.00" y1="82.50" x2="116.00" y2="84.58" stroke="#333" stroke-width="0.8"/>
<line x1="119.00" y1="82.50" x2="119.00" y2="84.58" stroke="#333" stroke-width="0.8"/>
<line x1="122.00" y1="82.50" x2="122.00" y2="84.58" stroke="#333" stroke-width="0.8"/>
<line x1="125.00" y1="82.50" x2="125.00" y2="84.58" stroke="#333" stroke-width="0.8"/>
<line x1="120.00" y1="115.30" x2="120.00" y2="117.38" stroke="#333" stroke-width="0.8"/>
<line x1="124.00" y1="115.30" x2="124.00" y2="117.38" stroke="#333" stroke-width="0.8"/>
<line x1="128.00" y1="115.30" x2="128.00" y2="117.38" stroke="#333" stroke-width="0.8"/>
<line x1="131.00" y1="115.30" x2="131.00" y2="117.38" stroke="#333" stroke-width="0.8"/>
<line x1="134.00" y1="115.30" x2="134.00" y2="117.38" stroke="#333" stroke-width="0.8"/>
<line x1="137.00" y1="115.30" x2="137.00" y2="117.38" stroke="#333" stroke-width="0.8"/>
<line x1="140.00" y1="115.30" x2="140.00" y2="117.38" stroke="#333" stroke-width="0.8"/>
<line x1="144.00" y1="115.30" x2="144.00" y2="117.38" stroke="#333" stroke-width="0.8"/>
<line x1="199.40" y1="104.00" x2="199.40" y2="106.08" stroke="#333" stroke-width="0.8"/>
<line x1="230.50" y1="104.00" x2="230.50" y2="106.08" stroke="#333" stroke-width="0.8"/>
<line x1="234.00" y1="104.00" x2="234.00" y2="106.08" stroke="#333" stroke-width="0.8"/>
<line x1="236.60" y1="104.00" x2="236.60" y2="106.08" stroke="#333" stroke-width="0.8"/>
<line x1="239.20" y1="104.00" x2="239.20" y2="106.08" stroke="#333" stroke-width="0.8"/>
<line x1="185.60" y1="121.70" x2="185.60" y2="123.78" stroke="#333" stroke-width="0.8"/>
<line x1="219.80" y1="121.70" x2="219.80" y2="123.78" stroke="#333" stroke-width="0.8"/>
<line x1="82.00" y1="84.90" x2="82.00" y2="86.98" stroke="#333" stroke-width="0.8"/>
<line x1="84.00" y1="84.90" x2="84.00" y2="86.98" stroke="#333" stroke-width="0.8"/>
<line x1="89.00" y1="86.90" x2="89.00" y2="88.98" stroke="#333" stroke-width="0.8"/>
<line x1="92.00" y1="86.90" x2="92.00" y2="88.98" stroke="#333" stroke-width="0.8"/>
<line x1="94.00" y1="86.90" x2="94.00" y2="88.98" stroke="#333" stroke-width="0.8"/>
<line x1="96.00" y1="86.90" x2="96.00" y2="88.98" stroke="#333" stroke-width="0.8"/>
<line x1="100.00" y1="89.80" x2="100.00" y2="91.88" stroke="#333" stroke-width="0.8"/>
<line x1="103.00" y1="89.80" x2="103.00" y2="91.88" stroke="#333" stroke-width="0.8"/>
<line x1="72.00" y1="55.10" x2="72.00" y2="57.18" stroke="#333" stroke-width="0.8"/>
<line x1="73.50" y1="55.10" x2="73.50" y2="57.18" stroke="#333" stroke-width="0.8"/>
<line x1="94.00" y1="74.40" x2="94.00" y2="76.48" stroke="#333" stroke-width="0.8"/>
<line x1="97.00" y1="74.40" x2="97.00" y2="76.48" stroke="#333" stroke-width="0.8"/>
<line x1="105.00" y1="77.90" x2="105.00" y2="79.98" stroke="#333" stroke-width="0.8"/>
<line x1="108.00" y1="77.90" x2="108.00" y2="79.98" stroke="#333" stroke-width="0.8"/>
<line x1="92.00" y1="121.60" x2="92.00" y2="123.68" stroke="#333" stroke-width="0.8"/>
<line x1="99.00" y1="121.60" x2="99.00" y2="123.68" stroke="#333" stroke-width="0.8"/>
<line x1="103.00" y1="121.60" x2="103.00" y2="123.68" stroke="#333" stroke-width="0.8"/>
<line x1="108.00" y1="128.60" x2="108.00" y2="130.68" stroke="#333" stroke-width="0.8"/>
<line x1="114.00" y1="128.60" x2="114.00" y2="130.68" stroke="#333" stroke-width="0.8"/>
<line x1="117.00" y1="128.60" x2="117.00" y2="130.68" stroke="#333" stroke-width="0.8"/>
<line x1="124.00" y1="133.90" x2="124.00" y2="135.98" stroke="#333" stroke-width="0.8"/>
<line x1="130.00" y1="133.90" x2="130.00" y2="135.98" stroke="#333" stroke-width="0.8"/>
<line x1="136.00" y1="133.90" x2="136.00" y2="135.98" stroke="#333" stroke-width="0.8"/>
<line x1="140.00" y1="133.90" x2="140.00" y2="135.98" stroke="#333" stroke-width="0.8"/>
<line x1="92.00" y1="108.40" x2="92.00" y2="110.48" stroke="#333" stroke-width="0.8"/>
<line x1="98.00" y1="108.40" x2="98.00" y2="110.48" stroke="#333" stroke-width="0.8"/>
<line x1="155.00" y1="91.00" x2="155.00" y2="93.08" stroke="#333" stroke-width="0.8"/>
<line x1="160.00" y1="91.00" x2="160.00" y2="93.08" stroke="#333" stroke-width="0.8"/>
<line x1="166.00" y1="91.00" x2="166.00" y2="93.08" stroke="#333" stroke-width="0.8"/>
<line x1="170.00" y1="91.00" x2="170.00" y2="93.08" stroke="#333" stroke-width="0.8"/>
<line x1="132.00" y1="84.70" x2="132.00" y2="86.78" stroke="#333" stroke-width="0.8"/>
<line x1="136.00" y1="84.70" x2="136.00" y2="86.78" stroke="#333" stroke-width="0.8"/>
<line x1="140.00" y1="84.70" x2="140.00" y2="86.78" stroke="#333" stroke-width="0.8"/>
<line x1="104.00" y1="77.40" x2="104.00" y2="79.48" stroke="#333" stroke-width="0.8"/>
<line x1="109.00" y1="77.40" x2="109.00" y2="79.48" stroke="#333" stroke-width="0.8"/>
<line x1="94.00" y1="74.20" x2="94.00" y2="76.28" stroke="#333" stroke-width="0.8"/>
<line x1="97.00" y1="74.20" x2="97.00" y2="76.28" stroke="#333" stroke-width="0.8"/>
<path d="M302.2 140.6 L302.8 132.0 L303.8 119.4 L306.5 109.8 L308.6 101.3 L310.7 94.0 L312.4 82.0 L316.1 77.4 L319.7 78.3 L323.4 77.4 L328.0 74.6 L332.5 71.0 L354.4 71.0 L355.4 63.7 L361.7 63.1 L361.7 57.2 L397.4 57.2" fill="none" stroke="#2a5078" stroke-width="1.3" stroke-dasharray="2.1 1.1" stroke-linejoin="round"/>
<path d="M302.2 140.6 L303.3 131.0 L304.4 122.5 L306.5 114.0 L309.7 100.2 L311.8 94.0 L312.4 91.0 L316.1 81.0 L319.7 78.3 L321.6 73.7 L323.4 67.3 L324.3 65.5 L349.0 65.5 L349.9 61.0 L385.1 61.0 L385.1 41.9" fill="none" stroke="#ac2a40" stroke-width="1.3" stroke-dasharray="2.1 1.1" stroke-linejoin="round"/>
<path d="M302.2 140.6 L306.5 134.2 L310.7 125.7 L315.0 116.2 L320.3 105.6 L322.4 104.0 L339.8 102.9 L343.5 99.3 L356.3 98.4 L358.1 93.2 L388.9 93.2 L388.9 78.4 L401.6 78.4 L402.4 75.5" fill="none" stroke="#2a5c7a" stroke-width="1.3" stroke-linejoin="round"/>
<path d="M302.2 140.6 L307.6 131.0 L310.7 120.4 L315.0 106.6 L319.2 103.4 L323.5 98.7 L328.9 95.6 L336.2 92.9 L345.3 92.9 L354.4 90.1 L356.3 88.8 L388.9 88.8 L389.7 86.9 L394.8 86.9 L396.5 80.9 L398.2 78.4 L401.6 78.4 L402.4 75.5 L418.6 75.5 L419.4 69.9 L493.8 69.9" fill="none" stroke="#b02a3c" stroke-width="1.3" stroke-linejoin="round"/>
<line x1="455.40" y1="68.40" x2="455.40" y2="71.40" stroke="#7a2a36" stroke-width="0.9"/>
<line x1="488.20" y1="68.40" x2="488.20" y2="71.40" stroke="#7a2a36" stroke-width="0.9"/>
<line x1="492.30" y1="68.40" x2="492.30" y2="71.40" stroke="#7a2a36" stroke-width="0.9"/>
<line x1="405.00" y1="74.00" x2="405.00" y2="77.00" stroke="#7a2a36" stroke-width="0.9"/>
<line x1="410.00" y1="74.00" x2="410.00" y2="77.00" stroke="#7a2a36" stroke-width="0.9"/>
<line x1="415.00" y1="74.00" x2="415.00" y2="77.00" stroke="#7a2a36" stroke-width="0.9"/>
<line x1="365.00" y1="87.30" x2="365.00" y2="90.30" stroke="#7a2a36" stroke-width="0.9"/>
<line x1="370.00" y1="87.30" x2="370.00" y2="90.30" stroke="#7a2a36" stroke-width="0.9"/>
<line x1="375.00" y1="87.30" x2="375.00" y2="90.30" stroke="#7a2a36" stroke-width="0.9"/>
<line x1="380.00" y1="87.30" x2="380.00" y2="90.30" stroke="#7a2a36" stroke-width="0.9"/>
<line x1="325.00" y1="101.40" x2="325.00" y2="104.40" stroke="#234" stroke-width="0.9"/>
<line x1="330.00" y1="101.40" x2="330.00" y2="104.40" stroke="#234" stroke-width="0.9"/>
<line x1="336.00" y1="101.40" x2="336.00" y2="104.40" stroke="#234" stroke-width="0.9"/>
<line x1="342.00" y1="101.40" x2="342.00" y2="104.40" stroke="#234" stroke-width="0.9"/>
<line x1="371.00" y1="91.70" x2="371.00" y2="94.70" stroke="#234" stroke-width="0.9"/>
<line x1="375.00" y1="91.70" x2="375.00" y2="94.70" stroke="#234" stroke-width="0.9"/>
<line x1="361.70" y1="55.70" x2="361.70" y2="58.70" stroke="#234" stroke-width="0.9"/>
<line x1="397.40" y1="55.70" x2="397.40" y2="58.70" stroke="#234" stroke-width="0.9"/>
<line x1="330.00" y1="64.00" x2="330.00" y2="67.00" stroke="#7a2a36" stroke-width="0.9"/>
<line x1="337.00" y1="64.00" x2="337.00" y2="67.00" stroke="#7a2a36" stroke-width="0.9"/>
<line x1="343.00" y1="64.00" x2="343.00" y2="67.00" stroke="#7a2a36" stroke-width="0.9"/>
<line x1="345.00" y1="69.50" x2="345.00" y2="72.50" stroke="#234" stroke-width="0.9"/>
<line x1="349.00" y1="69.50" x2="349.00" y2="72.50" stroke="#234" stroke-width="0.9"/>
<path d="M50.7 264.0 L54.9 281.8 L57.9 296.6 L60.9 310.0 L63.8 327.8 L68.3 336.7 L72.0 341.2 L75.7 344.2 L80.2 350.9 L84.6 353.8 L89.1 354.6 L96.5 357.5 L104.7 360.5 L105.4 365.3 L121.7 365.3 L121.7 371.3 L142.5 371.3 L142.5 376.0" fill="none" stroke="#2a5078" stroke-width="1.3" stroke-dasharray="2.1 1.1" stroke-linejoin="round"/>
<path d="M50.7 264.0 L56.4 280.3 L60.9 298.1 L62.3 310.0 L71.0 310.0 L71.0 343.4 L88.8 343.4 L88.8 378.0" fill="none" stroke="#ac2a40" stroke-width="1.3" stroke-dasharray="2.1 1.1" stroke-linejoin="round"/>
<line x1="147.50" y1="352.30" x2="147.50" y2="378.50" stroke="#6f8595" stroke-width="1.4"/>
<path d="M50.7 264.0 L57.1 278.8 L60.9 287.7 L64.6 298.1 L68.3 304.0 L70.5 308.5 L73.5 314.5 L77.2 318.9 L78.7 323.4 L86.1 324.1 L86.9 325.6 L95.8 325.6 L96.5 328.6 L104.0 328.6 L104.7 334.5 L109.1 334.5 L109.6 343.3 L116.9 343.3 L116.9 352.3 L147.5 352.3" fill="none" stroke="#2a5c7a" stroke-width="1.3" stroke-linejoin="round"/>
<path d="M50.7 264.0 L54.9 264.0 L54.9 266.9 L56.4 269.1 L58.6 269.1 L58.6 272.1 L60.9 272.1 L60.9 277.3 L62.6 277.3 L62.6 282.5 L66.8 282.5 L66.8 288.5 L69.0 288.5 L69.0 293.7 L72.7 293.7 L72.7 298.9 L79.4 298.9 L79.4 304.1 L81.4 304.1 L81.4 310.0 L90.6 310.0 L90.6 316.0 L92.8 316.0 L92.8 322.3 L168.7 322.3" fill="none" stroke="#b02a3c" stroke-width="1.3" stroke-linejoin="round"/>
<line x1="116.90" y1="320.70" x2="116.90" y2="322.78" stroke="#333" stroke-width="0.8"/>
<line x1="124.10" y1="320.70" x2="124.10" y2="322.78" stroke="#333" stroke-width="0.8"/>
<line x1="143.40" y1="320.70" x2="143.40" y2="322.78" stroke="#333" stroke-width="0.8"/>
<line x1="166.00" y1="320.70" x2="166.00" y2="322.78" stroke="#333" stroke-width="0.8"/>
<line x1="167.80" y1="320.70" x2="167.80" y2="322.78" stroke="#333" stroke-width="0.8"/>
<line x1="121.70" y1="350.70" x2="121.70" y2="352.78" stroke="#333" stroke-width="0.8"/>
<line x1="142.50" y1="350.70" x2="142.50" y2="352.78" stroke="#333" stroke-width="0.8"/>
<line x1="88.00" y1="324.00" x2="88.00" y2="326.08" stroke="#333" stroke-width="0.8"/>
<line x1="92.00" y1="324.00" x2="92.00" y2="326.08" stroke="#333" stroke-width="0.8"/>
<line x1="98.00" y1="327.00" x2="98.00" y2="329.08" stroke="#333" stroke-width="0.8"/>
<line x1="102.00" y1="327.00" x2="102.00" y2="329.08" stroke="#333" stroke-width="0.8"/>
<line x1="76.00" y1="342.60" x2="76.00" y2="344.68" stroke="#333" stroke-width="0.8"/>
<line x1="80.00" y1="342.60" x2="80.00" y2="344.68" stroke="#333" stroke-width="0.8"/>
<line x1="84.00" y1="342.60" x2="84.00" y2="344.68" stroke="#333" stroke-width="0.8"/>
<line x1="86.00" y1="353.40" x2="86.00" y2="355.48" stroke="#333" stroke-width="0.8"/>
<line x1="92.00" y1="353.40" x2="92.00" y2="355.48" stroke="#333" stroke-width="0.8"/>
<line x1="97.00" y1="353.40" x2="97.00" y2="355.48" stroke="#333" stroke-width="0.8"/>
<line x1="112.00" y1="363.70" x2="112.00" y2="365.78" stroke="#333" stroke-width="0.8"/>
<line x1="117.00" y1="363.70" x2="117.00" y2="365.78" stroke="#333" stroke-width="0.8"/>
<path d="M302.4 376.0 L305.0 355.7 L307.6 338.3 L310.2 326.1 L311.9 319.0 L315.8 316.2 L322.5 316.2 L323.5 314.8 L328.3 312.3 L330.2 310.0 L334.0 307.5 L338.8 308.0 L354.2 308.0 L354.2 301.3 L361.0 300.3 L361.2 293.5 L396.3 293.5" fill="none" stroke="#2a5078" stroke-width="1.3" stroke-dasharray="2.1 1.1" stroke-linejoin="round"/>
<path d="M302.4 376.6 L306.7 376.6 L306.7 359.2 L307.6 351.3 L311.0 351.3 L311.0 328.7 L316.3 328.7 L316.3 306.3 L340.8 306.3" fill="none" stroke="#ac2a40" stroke-width="1.3" stroke-dasharray="2.1 1.1" stroke-linejoin="round"/>
<path d="M302.4 376.6 L305.8 374.8 L308.4 359.2 L311.0 346.1 L325.9 346.1 L326.7 340.4 L423.3 340.4" fill="none" stroke="#b02a3c" stroke-width="1.3" stroke-linejoin="round"/>
<path d="M302.4 375.5 L308.4 366.1 L314.5 354.0 L320.6 340.9 L325.9 340.0 L337.7 337.3 L342.5 334.4 L356.9 334.4 L356.9 328.7 L388.7 328.7 L388.7 314.2 L401.5 314.2" fill="none" stroke="#2a5c7a" stroke-width="1.3" stroke-linejoin="round"/>
<line x1="344.40" y1="338.90" x2="344.40" y2="341.90" stroke="#7a2a36" stroke-width="0.9"/>
<line x1="355.00" y1="338.90" x2="355.00" y2="341.90" stroke="#7a2a36" stroke-width="0.9"/>
<line x1="361.70" y1="338.90" x2="361.70" y2="341.90" stroke="#7a2a36" stroke-width="0.9"/>
<line x1="369.40" y1="338.90" x2="369.40" y2="341.90" stroke="#7a2a36" stroke-width="0.9"/>
<line x1="377.10" y1="338.90" x2="377.10" y2="341.90" stroke="#7a2a36" stroke-width="0.9"/>
<line x1="397.30" y1="338.90" x2="397.30" y2="341.90" stroke="#7a2a36" stroke-width="0.9"/>
<line x1="420.40" y1="338.90" x2="420.40" y2="341.90" stroke="#7a2a36" stroke-width="0.9"/>
<line x1="423.30" y1="338.90" x2="423.30" y2="341.90" stroke="#7a2a36" stroke-width="0.9"/>
<line x1="370.00" y1="327.20" x2="370.00" y2="330.20" stroke="#234" stroke-width="0.9"/>
<line x1="374.00" y1="327.20" x2="374.00" y2="330.20" stroke="#234" stroke-width="0.9"/>
<line x1="401.50" y1="312.70" x2="401.50" y2="315.70" stroke="#234" stroke-width="0.9"/>
<line x1="396.30" y1="292.00" x2="396.30" y2="295.00" stroke="#234" stroke-width="0.9"/>
<line x1="340.80" y1="304.80" x2="340.80" y2="307.80" stroke="#7a2a36" stroke-width="0.9"/>
<line x1="324.00" y1="338.00" x2="324.00" y2="341.00" stroke="#234" stroke-width="0.9"/>
<line x1="329.00" y1="338.00" x2="329.00" y2="341.00" stroke="#234" stroke-width="0.9"/>
<line x1="334.00" y1="338.00" x2="334.00" y2="341.00" stroke="#234" stroke-width="0.9"/>
<line x1="347.00" y1="332.90" x2="347.00" y2="335.90" stroke="#234" stroke-width="0.9"/>
<line x1="351.00" y1="332.90" x2="351.00" y2="335.90" stroke="#234" stroke-width="0.9"/>
<line x1="52.00" y1="262.70" x2="52.00" y2="265.04" stroke="#222" stroke-width="0.9"/>
<line x1="53.50" y1="262.70" x2="53.50" y2="265.04" stroke="#222" stroke-width="0.9"/>
<line x1="55.00" y1="262.70" x2="55.00" y2="265.04" stroke="#222" stroke-width="0.9"/>
<line x1="57.00" y1="262.70" x2="57.00" y2="265.04" stroke="#222" stroke-width="0.9"/>
<line x1="51.50" y1="25.00" x2="51.50" y2="27.34" stroke="#222" stroke-width="0.9"/>
<line x1="53.00" y1="25.00" x2="53.00" y2="27.34" stroke="#222" stroke-width="0.9"/>
<line x1="55.00" y1="25.00" x2="55.00" y2="27.34" stroke="#222" stroke-width="0.9"/></svg></body></html>
